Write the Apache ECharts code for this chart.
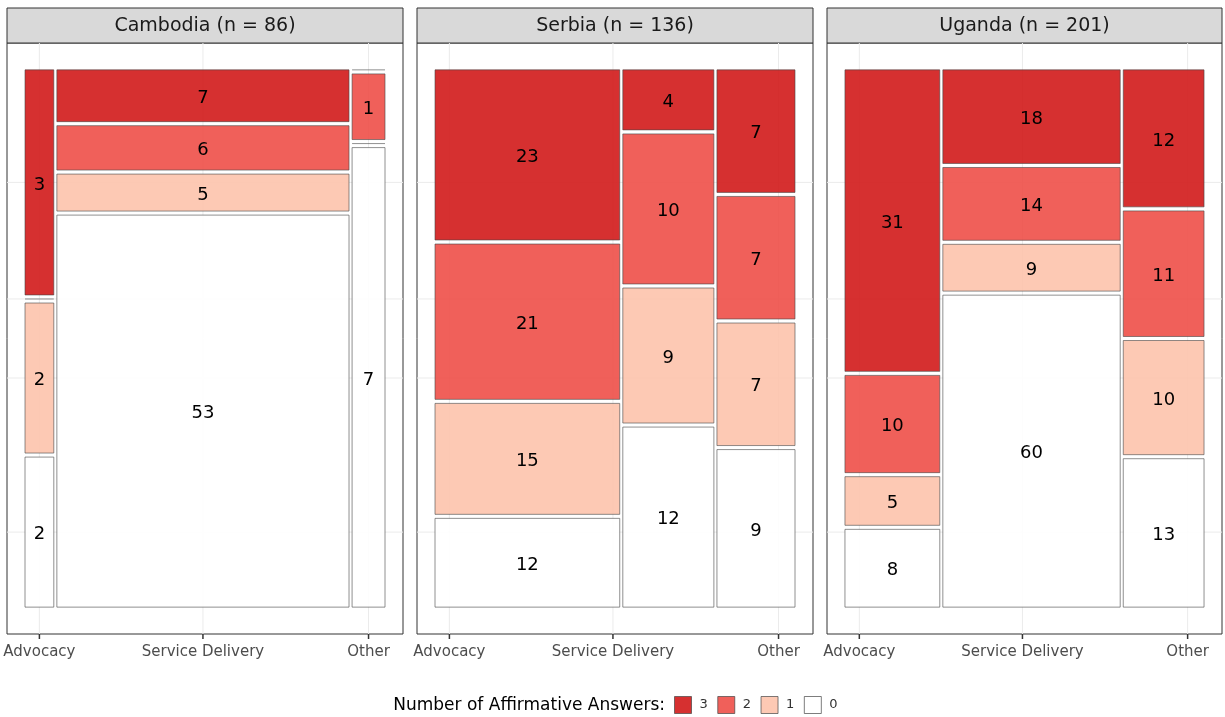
<!DOCTYPE html>
<html>
<head>
<meta charset="utf-8">
<script src="https://cdn.jsdelivr.net/npm/echarts@6/dist/echarts.min.js"></script>
<style>
html,body{margin:0;padding:0;background:#fff;}
#chart{width:1225px;height:717px;}
</style>
</head>
<body>
<div id="chart"></div>
<script>
// ---------- DATA ----------
const facets = ['Cambodia', 'Serbia', 'Uganda'];
const columns = ['Advocacy', 'Service Delivery', 'Other'];
const levels = ['3', '2', '1', '0'];            // top to bottom within each column
// counts[column][level]
const cambodia = [[3, 0, 2, 2], [7, 6, 5, 53], [0, 1, 0, 7]];
const serbia   = [[23, 21, 15, 12], [4, 10, 9, 12], [7, 7, 7, 9]];
const uganda   = [[31, 10, 5, 8], [18, 14, 9, 60], [12, 11, 10, 13]];
const facetCounts = [cambodia, serbia, uganda];
const legendTitle = 'Number of Affirmative Answers:';

// ---------- STYLE ----------
const levelColors = ['rgba(209,25,26,0.9)', 'rgba(238,79,72,0.9)', 'rgba(253,195,172,0.9)', 'rgba(255,255,255,0.9)'];
const FONT = 'DejaVu Sans';
const gapX = 0.0085, gapY = 0.0075;
const panels = [[7, 403], [417, 813], [827, 1222]];
const panelTop = 43, panelBottom = 634, stripTop = 8;

// ---------- GEOMETRY (mosaic layout from counts) ----------
function mosaic(counts) {
  const colTot = counts.map(c => c.reduce((a, b) => a + b, 0));
  const N = colTot.reduce((a, b) => a + b, 0);
  const usableX = 1 - gapX * (counts.length - 1);
  const rects = levels.map(() => []);
  const centers = [];
  let x = 0;
  counts.forEach((col, ci) => {
    const w = usableX * colTot[ci] / N;
    const usableY = 1 - gapY * (col.length - 1);
    let y = 1;
    col.forEach((v, li) => {
      const h = usableY * v / colTot[ci];
      rects[li].push([x, x + w, y - h, y, v]);
      y -= h + gapY;
    });
    centers.push(x + w / 2);
    x += w + gapX;
  });
  return { rects, centers, N };
}
const layouts = facetCounts.map(mosaic);
// axis breaks are shared by all facets: centres from the first facet
const xBreaks = layouts[0].centers;
const yBreaks = layouts[0].rects.map(r => (r[0][2] + r[0][3]) / 2);

const grids = [], xAxes = [], yAxes = [], series = [], graphics = [];
layouts.forEach((L, fi) => {
  const [l, r] = panels[fi];
  grids.push({ left: l, width: r - l, top: panelTop, height: panelBottom - panelTop,
    show: true, borderColor: '#333', borderWidth: 1, backgroundColor: '#fff' });
  xAxes.push({ gridIndex: fi, type: 'value', min: -0.05, max: 1.05,
    axisLine: { show: false, onZero: false }, splitLine: { show: false },
    axisTick: { show: false },
    axisLabel: { show: true, customValues: xBreaks, color: '#4d4d4d', fontSize: 15, fontFamily: FONT, margin: 11,
      formatter: v => { let best = 0; xBreaks.forEach((c, i) => { if (Math.abs(c - v) < Math.abs(xBreaks[best] - v)) best = i; }); return columns[best]; } } });
  yAxes.push({ gridIndex: fi, type: 'value', min: -0.05, max: 1.05,
    axisLine: { show: false, onZero: false }, axisTick: { show: false }, axisLabel: { show: false }, splitLine: { show: false } });
  // grid lines (type 1 = horizontal, 0 = vertical) and x ticks (type 2)
  const gl = xBreaks.map(c => [0, c]).concat(yBreaks.map(b => [1, b])).concat(xBreaks.map(c => [2, c]));
  series.push({ type: 'custom', xAxisIndex: fi, yAxisIndex: fi, silent: true, z: 1, clip: false,
    data: gl,
    renderItem: (params, api) => {
      const t = api.value(0), v = api.value(1);
      if (t === 2) {
        const a = api.coord([v, -0.05]);
        return { type: 'line', z2: 100, shape: { x1: a[0], y1: a[1], x2: a[0], y2: a[1] + 5 }, style: { stroke: '#333', lineWidth: 1.5 } };
      }
      const a = t === 1 ? api.coord([-0.05, v]) : api.coord([v, -0.05]);
      const b = t === 1 ? api.coord([1.05, v]) : api.coord([v, 1.05]);
      return { type: 'line', shape: { x1: a[0], y1: a[1], x2: b[0], y2: b[1] }, style: { stroke: '#ebebeb', lineWidth: 1 } };
    } });
  // mosaic rects
  levels.forEach((lv, li) => {
    series.push({ type: 'custom', name: lv, xAxisIndex: fi, yAxisIndex: fi, z: 2,
      itemStyle: { color: levelColors[li] },
      data: L.rects[li],
      renderItem: (params, api) => {
        const x0 = api.value(0), x1 = api.value(1), y0 = api.value(2), y1 = api.value(3), n = api.value(4);
        const p0 = api.coord([x0, y1]), p1 = api.coord([x1, y0]);
        if (n === 0) {
          return { type: 'line', shape: { x1: p0[0], y1: p0[1], x2: p1[0], y2: p0[1] },
            style: { stroke: 'rgba(70,70,70,0.6)', lineWidth: 1 } };
        }
        return { type: 'rect', shape: { x: p0[0], y: p0[1], width: p1[0] - p0[0], height: p1[1] - p0[1] },
          style: { fill: levelColors[li], stroke: 'rgba(70,70,70,0.6)', lineWidth: 1 },
          textContent: { style: { text: String(n), fill: '#000', fontSize: 18, fontFamily: FONT } },
          textConfig: { position: 'inside', offset: [0, 2.5] } };
      } });
  });
  // strip
  graphics.push({ type: 'rect', shape: { x: l, y: stripTop, width: r - l, height: panelTop - stripTop },
    style: { fill: '#d9d9d9', stroke: '#333', lineWidth: 1 } });
  graphics.push({ type: 'text', x: (l + r) / 2, y: (stripTop + panelTop) / 2 + 1,
    style: { text: facets[fi] + ' (n = ' + L.N + ')', fill: '#1a1a1a', fontSize: 19, fontFamily: FONT,
      textAlign: 'center', textVerticalAlign: 'middle' } });
});
graphics.push({ type: 'text', x: 665, y: 706,
  style: { text: legendTitle, fill: '#000', fontSize: 17, fontFamily: FONT, textAlign: 'right', textVerticalAlign: 'middle' } });

const chart = echarts.init(document.getElementById('chart'), null, { renderer: 'canvas' });
chart.setOption({
  animation: false,
  backgroundColor: '#fff',
  grid: grids, xAxis: xAxes, yAxis: yAxes, series: series,
  legend: { data: levels, left: 669, top: 691, icon: 'rect', itemWidth: 17, itemHeight: 17, itemGap: 9.5,
    selectedMode: false,
    itemStyle: { borderColor: 'rgba(70,70,70,0.7)', borderWidth: 1 },
    textStyle: { fontSize: 13, color: '#333', fontFamily: FONT, padding: [0, 0, 0, 3] } },
  graphic: graphics
});
</script>
</body>
</html>
